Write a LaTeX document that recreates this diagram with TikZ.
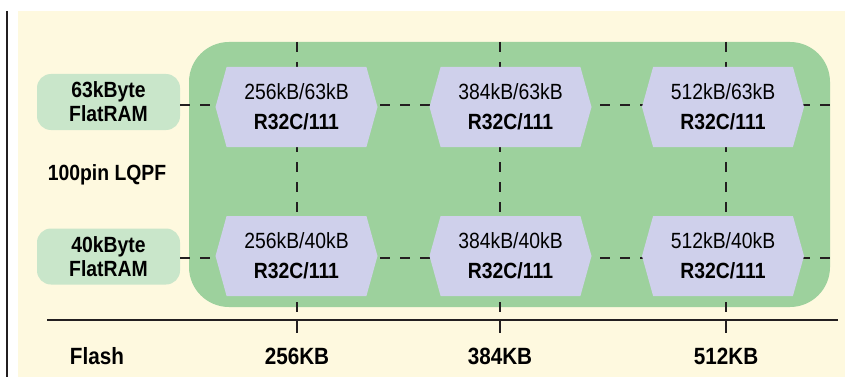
\documentclass[tikz,border=0pt]{standalone}
\usepackage{fontspec}
\setmainfont{Liberation Sans}[FakeStretch=0.88]
\usetikzlibrary{shapes.symbols}
\definecolor{panel}{HTML}{FEF9DF}
\definecolor{board}{HTML}{9DD19D}
\definecolor{ramfill}{HTML}{C9E6CA}
\definecolor{chipfill}{HTML}{CFD0EB}
\definecolor{ink}{HTML}{231F20}
\tikzset{
  ram/.style={fill=ramfill, rounded corners=14pt, minimum width=143pt,
    minimum height=56pt, align=center, inner sep=0pt,
    font=\fontsize{22}{24}\selectfont\bfseries},
  chip/.style={signal, signal to=east and west, signal pointer angle=149,
    fill=chipfill, minimum width=162pt, minimum height=80pt, align=center,
    inner sep=0pt, font=\fontsize{22}{30}\selectfont},
  dashline/.style={ink, line width=2.5pt, dash pattern=on 10pt off 10pt},
  axislabel/.style={font=\fontsize{23.5}{26}\selectfont\bfseries}
}

\begin{document}
\begin{tikzpicture}[x=1pt,y=-1pt]
   \useasboundingbox (0,0) rectangle (845,377);
   \fill[panel] (18,11) rectangle (845,377);
   \draw[ink,line width=2.5pt] (7,11) -- (7,377);
   \fill[board,rounded corners=40pt] (189,42) rectangle (830,307);
   % flash axis
   \draw[ink,line width=2pt] (47,320) -- (838,320);
   \node[axislabel] (flash) at (97,356) {Flash};
   % ram rows
   \node[ram] (ram63) at (108.5,102) {63kByte\\FlatRAM};
   \node[ram] (ram40) at (108.5,256.5) {40kByte\\FlatRAM};
   \node[font=\fontsize{22}{24}\selectfont\bfseries] (pkg) at (107,175) {100pin LQPF};
   \coordinate (end63) at (835,105);
   \coordinate (end40) at (835,258);
   \draw[dashline] (ram63.east |- end63) -- (end63);
   \draw[dashline] (ram40.east |- end40) -- (end40);
   \foreach \x/\m in {297/256,500/384,726/512} {
    \draw[ink,line width=2.5pt] (\x,320) -- (\x,333);
    \node[axislabel] (kb\m) at (\x,356) {\m KB};
    \coordinate (top\m) at (\x,42);
    \coordinate (bot\m) at (\x,333);
    \draw[dashline] (top\m) -- (bot\m);
   }
   % devices
   \foreach \x/\m in {296.5/256,510.5/384,723/512} {
    \foreach \y/\r in {107/63,256/40} {
     \node[chip] (c\m-\r) at (\x,\y) {\m kB/\r kB\\\textbf{R32C/111}};
    }
   }
\end{tikzpicture}
\end{document}
